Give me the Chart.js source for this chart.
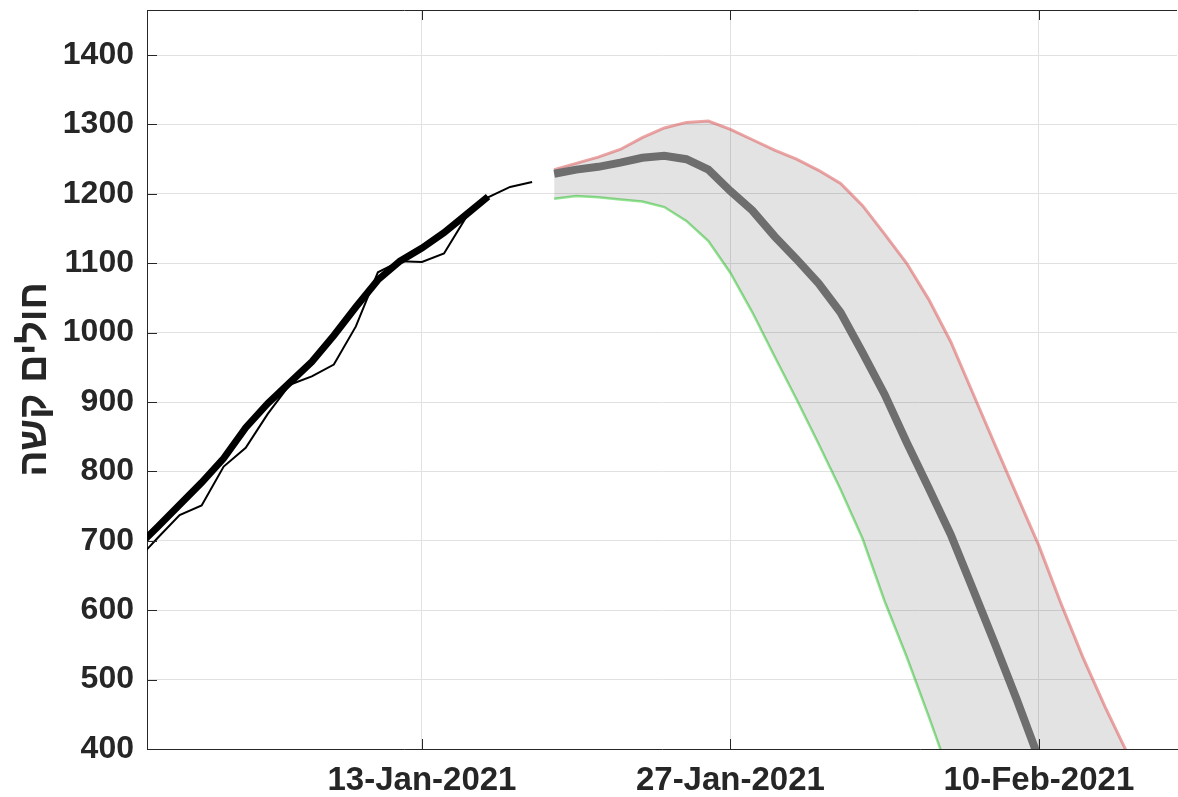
<!DOCTYPE html>
<html>
<head>
<meta charset="utf-8">
<script src="https://cdn.jsdelivr.net/npm/chart.js@4.4.1/dist/chart.umd.min.js"></script>
<style>
  html, body { margin: 0; padding: 0; background: #fff; }
  #wrap { width: 1178px; height: 797px; }
</style>
</head>
<body>
<div id="wrap"><canvas id="chart" width="1178" height="797"></canvas></div>
<script>
// observed severe patients, daily (thin line) and smoothed (thick line)
const raw_start = '31-Dec-2020';
const raw_values = [670, 704, 737, 751, 807, 834, 883, 925, 937, 954, 1009, 1087, 1103, 1102, 1114, 1166, 1195, 1210, 1217];
const smooth_start = '31-Dec-2020';
const smooth_values = [689, 720, 752, 784, 819, 863, 898, 928, 958, 996, 1037, 1076, 1103, 1122, 1144, 1170, 1196];

// projection: median and the band (upper / lower), runs past the bottom of the axis
const proj_start = '19-Jan-2021';
const proj_median = [1229, 1235, 1239, 1245, 1252, 1255, 1250, 1235, 1204, 1176, 1139, 1106, 1071, 1029, 971, 911, 842, 776, 709, 631, 552, 471, 386, 300, 215, 130, 45, -40, -125];
const proj_upper = [1235, 1244, 1253, 1264, 1281, 1295, 1303, 1305, 1293, 1278, 1263, 1250, 1234, 1215, 1183, 1142, 1100, 1048, 987, 913, 839, 766, 693, 610, 532, 461, 395, 327, 260];
const proj_lower = [1193, 1197, 1195, 1192, 1189, 1181, 1161, 1132, 1086, 1029, 966, 904, 840, 774, 703, 613, 533, 447, 358, 270, 180, 90, 0, -90, -180, -270, -360, -450, -540];

const x_tick_labels = ['13-Jan-2021', '27-Jan-2021', '10-Feb-2021'];
const y_tick_values = [400, 500, 600, 700, 800, 900, 1000, 1100, 1200, 1300, 1400];
const y_title = 'חולים קשה';

const months = {Jan: 0, Feb: 1, Mar: 2, Apr: 3, May: 4, Jun: 5, Jul: 6, Aug: 7, Sep: 8, Oct: 9, Nov: 10, Dec: 11};
const ref_day = Date.UTC(2021, 0, 13);

// days from 13-Jan-2021
function day_of(label) {
    const [d, m, y] = label.split('-');
    return (Date.UTC(+y, months[m], +d) - ref_day) / 86400000;
}

function to_points(start, values) {
    const d0 = day_of(start);
    return values.map((v, i) => ({x: d0 + i, y: v}));
}

const x_tick_days = x_tick_labels.map(day_of);

const ink = '#262626';
Chart.defaults.font.family = "'Liberation Sans', Arial, Helvetica, sans-serif";
Chart.defaults.color = ink;

// matlab style: ticks inside the box and a top edge
const matlab_box = {
    id: 'matlab_box',
    afterDraw(chart) {
        const {ctx, chartArea: a, scales} = chart;
        ctx.save();
        ctx.strokeStyle = ink;
        ctx.lineWidth = 1;
        ctx.beginPath();
        ctx.moveTo(a.left, Math.round(a.top) + 0.5);
        ctx.lineTo(a.right, Math.round(a.top) + 0.5);
        scales.y.ticks.forEach(t => {
            const py = Math.round(scales.y.getPixelForValue(t.value)) + 0.5;
            ctx.moveTo(a.left, py);
            ctx.lineTo(a.left + 10, py);
        });
        scales.x.ticks.forEach(t => {
            const px = Math.round(scales.x.getPixelForValue(t.value)) + 0.5;
            ctx.moveTo(px, a.bottom);
            ctx.lineTo(px, a.bottom - 10);
            ctx.moveTo(px, a.top);
            ctx.lineTo(px, a.top + 10);
        });
        ctx.stroke();
        ctx.restore();
    }
};

const line = (data, color, width, order, extra) => Object.assign({
    data: data,
    borderColor: color,
    borderWidth: width,
    pointRadius: 0,
    tension: 0,
    fill: false,
    order: order
}, extra || {});

new Chart(document.getElementById('chart').getContext('2d'), {
    type: 'line',
    data: {
        datasets: [
            line(to_points(raw_start, raw_values), '#000000', 2, 0),
            line(to_points(smooth_start, smooth_values), '#000000', 7, 1),
            line(to_points(proj_start, proj_median), 'rgb(110,110,110)', 8, 2),
            line(to_points(proj_start, proj_upper), 'rgba(220,90,90,0.55)', 3, 3,
                {fill: '+1', backgroundColor: 'rgba(0,0,0,0.11)'}),
            line(to_points(proj_start, proj_lower), 'rgba(70,210,70,0.6)', 2.5, 4)
        ]
    },
    options: {
        responsive: false,
        animation: false,
        devicePixelRatio: 1,
        layout: {padding: {top: 10, right: 1, left: 0, bottom: 0}},
        plugins: {
            legend: {display: false},
            tooltip: {enabled: false}
        },
        scales: {
            x: {
                type: 'linear',
                min: -12.48,
                max: 34.27,
                afterFit: s => { s.height = 48; s.paddingLeft = 0; s.paddingRight = 0; },
                afterBuildTicks: s => { s.ticks = x_tick_days.map(v => ({value: v})); },
                grid: {color: '#e1e1e1', drawTicks: false},
                border: {color: ink, width: 1},
                ticks: {
                    padding: 12,
                    maxRotation: 0,
                    font: {size: 33, weight: 'bold'},
                    callback: v => x_tick_labels[x_tick_days.indexOf(v)]
                }
            },
            y: {
                min: 400,
                max: 1465,
                afterFit: s => { s.width = 147; s.paddingTop = 0; s.paddingBottom = 0; },
                afterBuildTicks: s => { s.ticks = y_tick_values.map(v => ({value: v})); },
                grid: {color: '#e1e1e1', drawTicks: false},
                border: {color: ink, width: 1},
                ticks: {
                    padding: 13,
                    font: {size: 32, weight: 'bold'},
                    callback: v => String(v)
                },
                title: {
                    display: true,
                    text: y_title,
                    font: {size: 39, weight: 'bold'},
                    padding: {top: 12, bottom: 0}
                }
            }
        }
    },
    plugins: [matlab_box]
});
</script>
</body>
</html>
